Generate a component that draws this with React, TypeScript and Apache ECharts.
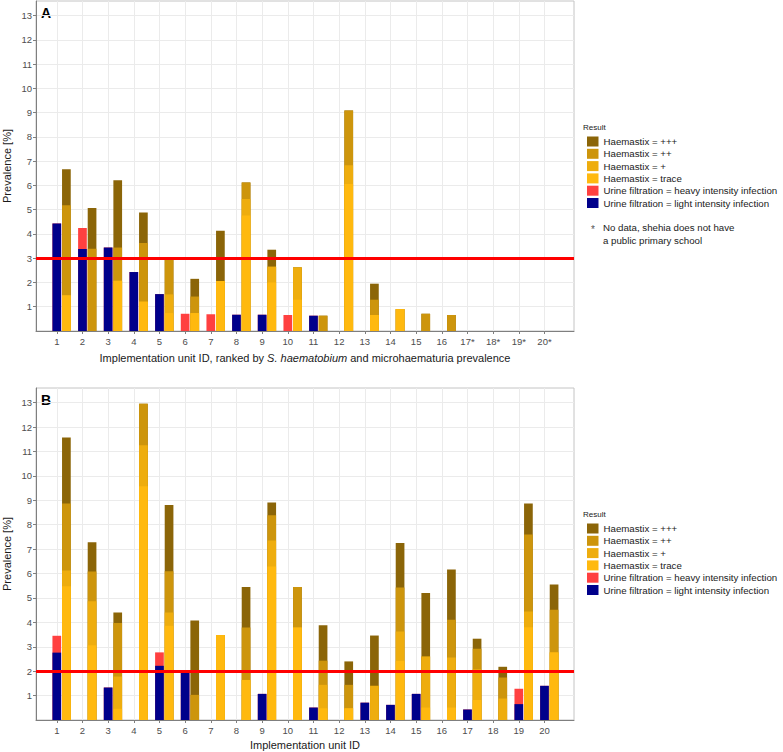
import React, { useEffect, useRef } from 'react';
import * as echarts from 'echarts';

// ---------- data ----------
const unitIds = [1, 2, 3, 4, 5, 6, 7, 8, 9, 10, 11, 12, 13, 14, 15, 16, 17, 18, 19, 20];
const tickLabelsA = ['1', '2', '3', '4', '5', '6', '7', '8', '9', '10', '11', '12', '13', '14', '15', '16', '17*', '18*', '19*', '20*'];
const tickLabelsB = ['1', '2', '3', '4', '5', '6', '7', '8', '9', '10', '11', '12', '13', '14', '15', '16', '17', '18', '19', '20'];
const yTicks = [1, 2, 3, 4, 5, 6, 7, 8, 9, 10, 11, 12, 13];
const thresholdA = 3;
const thresholdB = 2;

// Panel A (prevalence %, per layer)
const ufLightA = [4.43, 3.38, 3.44, 2.43, 1.52, 0, 0, 0.67, 0.67, 0, 0.63, 0, 0, 0, 0, 0, 0, 0, 0, 0];
const ufHeavyA = [0, 0.86, 0, 0, 0, 0.71, 0.69, 0, 0, 0.66, 0, 0, 0, 0, 0, 0, 0, 0, 0, 0];
const hxTraceA = [1.47, 0, 2.07, 1.21, 0.74, 0.74, 2.06, 4.76, 2.0, 1.29, 0, 6.06, 0.66, 0.9, 0, 0, 0, 0, 0, 0];
const hxPlus1A = [0, 0, 0, 0, 0.77, 0, 0, 0.68, 0.65, 1.33, 0, 0.77, 0, 0, 0, 0, 0, 0, 0, 0];
const hxPlus2A = [3.71, 3.39, 1.37, 2.42, 1.45, 0.68, 0, 0.68, 0, 0, 0.63, 2.26, 0.63, 0, 0.71, 0.66, 0, 0, 0, 0];
const hxPlus3A = [1.49, 1.68, 2.77, 1.25, 0, 0.73, 2.07, 0, 0.7, 0, 0, 0, 0.66, 0, 0, 0, 0, 0, 0, 0];

// Panel B
const ufLightB = [2.76, 0, 1.33, 0, 2.22, 2.0, 0, 0, 1.07, 0, 0.51, 0, 0.71, 0.62, 1.07, 0, 0.43, 0, 0.65, 1.4];
const ufHeavyB = [0.69, 0, 0, 0, 0.55, 0, 0, 0, 0, 0, 0, 0, 0, 0, 0, 0, 0, 0, 0.63, 0];
const hxTraceB = [5.48, 3.06, 0.46, 9.58, 3.86, 0, 3.48, 1.64, 6.29, 3.79, 0.48, 0.48, 0, 2.42, 0.51, 0.51, 0.82, 0, 3.8, 2.77];
const hxPlus1B = [0.64, 1.8, 1.32, 1.67, 0.54, 0, 0, 0, 1.06, 0, 0.96, 0, 1.4, 1.21, 2.09, 2.05, 1.26, 0.88, 0.64, 0];
const hxPlus2B = [2.75, 1.22, 2.19, 1.7, 1.69, 1.03, 0, 2.15, 1.04, 1.66, 0.99, 0.96, 0, 1.8, 0, 1.55, 0.84, 0.86, 3.16, 1.75];
const hxPlus3B = [2.7, 1.2, 0.43, 0, 2.72, 3.05, 0, 1.66, 0.52, 0, 1.45, 0.96, 2.06, 1.82, 2.6, 2.05, 0.41, 0.44, 1.27, 1.03];

const NAME_P3 = 'Haemastix = +++';
const NAME_P2 = 'Haemastix = ++';
const NAME_P1 = 'Haemastix = +';
const NAME_TR = 'Haemastix = trace';
const NAME_HV = 'Urine filtration = heavy intensity infection';
const NAME_LT = 'Urine filtration = light intensity infection';
const legendNames = [NAME_P3, NAME_P2, NAME_P1, NAME_TR, NAME_HV, NAME_LT];

const COLORS: Record<string, string> = {
  [NAME_P3]: '#8B6508',
  [NAME_P2]: '#CD950C',
  [NAME_P1]: '#EEAD0E',
  [NAME_TR]: '#FFB90F',
  [NAME_HV]: '#FF4040',
  [NAME_LT]: '#00008B',
};

const FONT = "'Liberation Sans', Arial, Helvetica, sans-serif";
const X_MIN = 0.19;
const X_MAX = 21.15;
const Y_MAX = 13.6;
const HX_OFFSET = 0.374;
const BAR_W = 8.7;

// running totals of layers (bottom layer first) -> each layer's top edge
function cumulative(layers: number[][]): number[][] {
  const out: number[][] = [];
  let run = unitIds.map(() => 0);
  layers.forEach((layer) => {
    run = run.map((v, i) => +(v + layer[i]).toFixed(4));
    out.push(run.slice());
  });
  return out;
}

function makeXAxis(gridIndex: number, labels: string[], visible: boolean) {
  return {
    type: 'value',
    gridIndex,
    min: X_MIN,
    max: X_MAX,
    show: visible,
    position: 'bottom',
    minInterval: 1,
    maxInterval: 1,
    axisLine: { show: true, onZero: false, lineStyle: { color: '#7f7f7f', width: 1 } },
    axisTick: { show: true, length: 3, customValues: unitIds, lineStyle: { color: '#7f7f7f' } },
    axisLabel: {
      show: true,
      customValues: unitIds,
      margin: 5,
      fontSize: 9.5,
      color: '#4d4d4d',
      fontFamily: FONT,
      formatter: (v: number) => labels[Math.round(v) - 1] ?? '',
    },
    splitLine: { show: true, lineStyle: { color: '#ebebeb', width: 1 } },
  };
}

function makeYAxis(gridIndex: number) {
  return {
    type: 'value',
    gridIndex,
    min: 0,
    max: Y_MAX,
    interval: 1,
    axisLine: { show: true, lineStyle: { color: '#7f7f7f', width: 1 } },
    axisTick: { show: true, length: 3, customValues: yTicks, lineStyle: { color: '#7f7f7f' } },
    axisLabel: {
      customValues: yTicks,
      margin: 4,
      fontSize: 9.5,
      color: '#4d4d4d',
      fontFamily: FONT,
    },
    splitLine: { show: true, lineStyle: { color: '#ebebeb', width: 1 } },
  };
}

function barSeries(name: string, tops: number[], xAxisIndex: number, yAxisIndex: number, offset: number, extra: any = {}) {
  return {
    type: 'bar',
    name,
    xAxisIndex,
    yAxisIndex,
    barWidth: BAR_W,
    barGap: '-100%',
    itemStyle: { color: COLORS[name] },
    emphasis: { disabled: true },
    data: unitIds.map((u, i) => [u + offset, tops[i]]),
    ...extra,
  };
}

function redLine(value: number) {
  return {
    z: 3,
    markLine: {
      silent: true,
      symbol: ['none', 'none'],
      label: { show: false },
      lineStyle: { color: '#ff0000', width: 3, type: 'solid' },
      data: [{ yAxis: value }],
    },
  };
}

function panelSeries(
  xUf: number, xHx: number, y: number,
  light: number[], heavy: number[],
  tr: number[], p1: number[], p2: number[], p3: number[],
  threshold: number,
) {
  const [ufL, ufH] = cumulative([light, heavy]);
  const [cTr, cP1, cP2, cP3] = cumulative([tr, p1, p2, p3]);
  // draw the tallest (outermost) layer first so each lower layer paints over it
  return [
    barSeries(NAME_HV, ufH, xUf, y, 0),
    barSeries(NAME_LT, ufL, xUf, y, 0),
    barSeries(NAME_P3, cP3, xHx, y, HX_OFFSET),
    barSeries(NAME_P2, cP2, xHx, y, HX_OFFSET),
    barSeries(NAME_P1, cP1, xHx, y, HX_OFFSET),
    barSeries(NAME_TR, cTr, xHx, y, HX_OFFSET, redLine(threshold)),
  ];
}

function legendAt(top: number) {
  return {
    data: legendNames,
    orient: 'vertical',
    left: 587,
    top,
    padding: 0,
    icon: 'rect',
    itemWidth: 11.5,
    itemHeight: 10,
    itemGap: 1.3,
    selectedMode: false,
    textStyle: { fontSize: 9.7, lineHeight: 11, color: '#1a1a1a', fontFamily: FONT },
  };
}

export default function App() {
  const ref = useRef<HTMLDivElement>(null);

  useEffect(() => {
    if (!ref.current) return;
    const chart = echarts.init(ref.current, null, { renderer: 'svg' });

    const option: any = {
      animation: false,
      backgroundColor: '#ffffff',
      textStyle: { fontFamily: FONT },
      grid: [
        { left: 36, top: 1, width: 538, height: 330, show: true, borderColor: '#c4c4c4', borderWidth: 1, backgroundColor: 'transparent' },
        { left: 36, top: 388, width: 538, height: 332, show: true, borderColor: '#c4c4c4', borderWidth: 1, backgroundColor: 'transparent' },
      ],
      xAxis: [
        makeXAxis(0, tickLabelsA, true),
        makeXAxis(0, tickLabelsA, false),
        makeXAxis(1, tickLabelsB, true),
        makeXAxis(1, tickLabelsB, false),
      ],
      yAxis: [makeYAxis(0), makeYAxis(1)],
      legend: [legendAt(136), legendAt(523)],
      series: [
        ...panelSeries(0, 1, 0, ufLightA, ufHeavyA, hxTraceA, hxPlus1A, hxPlus2A, hxPlus3A, thresholdA),
        ...panelSeries(2, 3, 1, ufLightB, ufHeavyB, hxTraceB, hxPlus1B, hxPlus2B, hxPlus3B, thresholdB),
      ],
      graphic: [
        { type: 'text', left: 41, top: 6, style: { text: 'A', fontSize: 14, fontWeight: 'bold', fill: '#000', fontFamily: FONT } },
        { type: 'text', left: 41, top: 393, style: { text: 'B', fontSize: 14, fontWeight: 'bold', fill: '#000', fontFamily: FONT } },
        {
          type: 'text', x: 7, y: 166, rotation: Math.PI / 2,
          style: { text: 'Prevalence [%]', fontSize: 11, fill: '#1a1a1a', fontFamily: FONT, align: 'center', verticalAlign: 'middle' },
        },
        {
          type: 'text', x: 7, y: 554, rotation: Math.PI / 2,
          style: { text: 'Prevalence [%]', fontSize: 11, fill: '#1a1a1a', fontFamily: FONT, align: 'center', verticalAlign: 'middle' },
        },
        {
          type: 'text', x: 305, y: 358,
          style: {
            text: '{n|Implementation unit ID, ranked by }{i|S. haematobium}{n| and microhaematuria prevalence}',
            align: 'center', verticalAlign: 'middle',
            rich: {
              n: { fontSize: 11, fill: '#1a1a1a', fontFamily: FONT },
              i: { fontSize: 11, fill: '#1a1a1a', fontFamily: FONT, fontStyle: 'italic' },
            },
          },
        },
        {
          type: 'text', x: 305, y: 745,
          style: { text: 'Implementation unit ID', fontSize: 11, fill: '#1a1a1a', fontFamily: FONT, align: 'center', verticalAlign: 'middle' },
        },
        { type: 'text', x: 583, y: 127, style: { text: 'Result', fontSize: 8, fill: '#1a1a1a', fontFamily: FONT, verticalAlign: 'middle' } },
        { type: 'text', x: 583, y: 514, style: { text: 'Result', fontSize: 8, fill: '#1a1a1a', fontFamily: FONT, verticalAlign: 'middle' } },
        { type: 'text', x: 593, y: 229, style: { text: '*', fontSize: 10, fill: '#555', fontFamily: FONT, align: 'center', verticalAlign: 'middle' } },
        { type: 'text', x: 603, y: 227, style: { text: 'No data, shehia does not have', fontSize: 9.7, fill: '#1a1a1a', fontFamily: FONT, verticalAlign: 'middle' } },
        { type: 'text', x: 603, y: 240, style: { text: 'a public primary school', fontSize: 9.7, fill: '#1a1a1a', fontFamily: FONT, verticalAlign: 'middle' } },
      ],
    };

    chart.setOption(option);
    return () => chart.dispose();
  }, []);

  return <div ref={ref} style={{ position: 'absolute', left: 0, top: 0, width: 783, height: 752 }} />;
}
